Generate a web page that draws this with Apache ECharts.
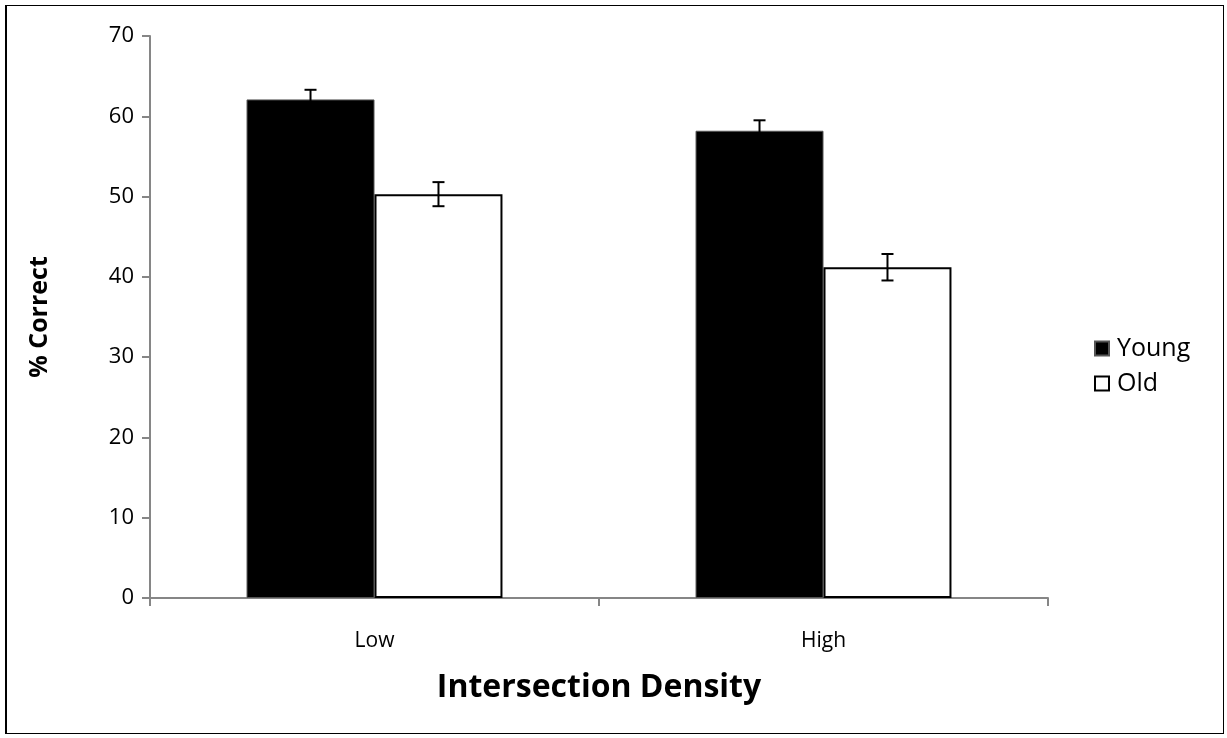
<!DOCTYPE html>
<html>
<head>
<meta charset="utf-8">
<script src="https://cdn.jsdelivr.net/npm/echarts@6/dist/echarts.min.js"></script>
<style>
    html, body { margin: 0; padding: 0; background: #fff; }
    #frame { position: absolute; left: 5px; top: 5px; width: 1216px; height: 727px; border: 1px solid #000; border-left-width: 2px; }
    #chart { position: absolute; left: 0; top: 0; width: 1227px; height: 738px; }
</style>
</head>
<body>
<div id="frame"></div>
<div id="chart"></div>
<script>
    // data
    var categories = ['Low', 'High'];
    var seriesNames = ['Young', 'Old'];
    var youngValues = [62.1, 58.2];
    var oldValues = [50.3, 41.2];
    var youngErr = [1.2, 1.3];
    var oldErr = [1.5, 1.65];
    var yTicks = [0, 10, 20, 30, 40, 50, 60, 70];

    var barFrac = 0.285;
    var font = '"Open Sans", "Noto Sans", sans-serif';

    function errorSeries(values, errs, side) {
        return {
            type: 'custom',
            silent: true,
            z: 5,
            data: values.map(function (v, i) { return [i, v, errs[i]]; }),
            renderItem: function (params, api) {
                var band = api.size([1, 0])[0];
                var off = side * band * barFrac / 2;
                var top = api.coord([api.value(0), api.value(1) + api.value(2)]);
                var bot = api.coord([api.value(0), api.value(1) - api.value(2)]);
                var x = top[0] + off;
                var cap = 6;
                var style = { stroke: '#000', lineWidth: 2 };
                return {
                    type: 'group',
                    children: [
                        { type: 'line', shape: { x1: x, y1: top[1], x2: x, y2: bot[1] }, style: style },
                        { type: 'line', shape: { x1: x - cap, y1: top[1], x2: x + cap, y2: top[1] }, style: style },
                        { type: 'line', shape: { x1: x - cap, y1: bot[1], x2: x + cap, y2: bot[1] }, style: style }
                    ]
                };
            }
        };
    }

    var chart = echarts.init(document.getElementById('chart'));
    chart.setOption({
        animation: false,
        backgroundColor: 'transparent',
        grid: { left: 150, right: 179, top: 36, bottom: 140 },
        legend: {
            orient: 'vertical',
            left: 1089,
            top: 331,
            itemWidth: 14,
            itemHeight: 14,
            itemGap: 10,
            icon: 'rect',
            textStyle: { fontFamily: font, fontSize: 25, color: '#000', padding: [0, 0, 0, 3] },
            data: seriesNames
        },
        xAxis: {
            type: 'category',
            data: categories,
            name: 'Intersection Density',
            nameLocation: 'middle',
            nameGap: 74,
            nameTextStyle: { fontFamily: font, fontSize: 32, fontWeight: 'bold', color: '#000' },
            axisLine: { lineStyle: { color: '#868686', width: 2 } },
            axisTick: { show: true, interval: 0, length: 8, lineStyle: { color: '#868686', width: 2 } },
            axisLabel: { fontFamily: font, fontSize: 21, color: '#000', margin: 33 }
        },
        yAxis: {
            type: 'value',
            min: 0,
            max: 70,
            interval: 10,
            name: '% Correct',
            nameLocation: 'middle',
            nameGap: 98,
            nameRotate: 90,
            nameTextStyle: { fontFamily: font, fontSize: 25, fontWeight: 'bold', color: '#000' },
            axisLine: { show: true, lineStyle: { color: '#868686', width: 2 } },
            axisTick: { show: true, length: 8, lineStyle: { color: '#868686', width: 2 } },
            splitLine: { show: false },
            axisLabel: {
                fontFamily: font, fontSize: 22, color: '#000', margin: 16,
                formatter: function (v) { return yTicks.indexOf(v) >= 0 ? String(v) : ''; }
            }
        },
        series: [
            {
                name: seriesNames[0],
                type: 'bar',
                barWidth: (barFrac * 100) + '%',
                barGap: '0%',
                data: youngValues,
                itemStyle: { color: '#000', borderColor: '#555', borderWidth: 1 }
            },
            {
                name: seriesNames[1],
                type: 'bar',
                barWidth: (barFrac * 100) + '%',
                barGap: '0%',
                data: oldValues,
                itemStyle: { color: '#fff', borderColor: '#000', borderWidth: 2 }
            },
            errorSeries(youngValues, youngErr, -1),
            errorSeries(oldValues, oldErr, 1)
        ]
    });
</script>
</body>
</html>
